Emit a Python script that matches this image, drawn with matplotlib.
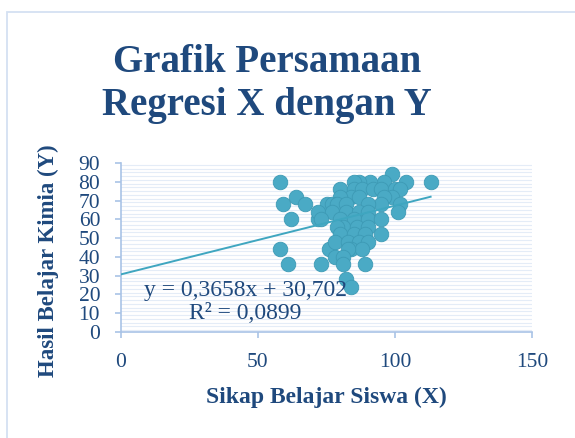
import matplotlib
matplotlib.use("Agg")
import matplotlib.pyplot as plt
import numpy as np
from matplotlib.patches import Rectangle

# ---- data ----
x_vals = [58, 59, 64, 67, 62, 58, 61, 72, 73, 76,
          99, 104, 113, 96, 91, 87, 85,
          80, 85, 88, 92, 95, 100, 102,
          84, 87, 80, 99, 96,
          75, 77, 79, 82, 95, 102, 90,
          72, 77, 82, 87, 90, 101,
          73, 80, 85, 90, 95,
          81, 79, 86, 90,
          80, 85, 89, 95,
          78, 83, 87, 90,
          84, 88, 83,
          78, 81,
          81, 89,
          82, 84]
y_vals = [80, 68, 72, 68, 60, 44, 36, 60, 36, 44,
          84, 80, 80, 80, 80, 80, 80,
          76, 76, 76, 76, 76, 76, 76,
          72, 72, 72, 72, 72,
          68, 68, 68, 68, 68, 68, 68,
          64, 64, 64, 64, 64, 64,
          60, 60, 60, 60, 60,
          56, 56, 56, 56,
          52, 52, 52, 52,
          48, 48, 48, 48,
          44, 44, 44,
          40, 40,
          36, 36,
          28, 24]
slope = 0.3658
intercept = 30.702
eq_text = "y = 0,3658x + 30,702\nR² = 0,0899"
title = "Grafik Persamaan\nRegresi X dengan Y"
xlabel = "Sikap Belajar Siswa (X)"
ylabel = "Hasil Belajar Kimia (Y)"
xticks = [0, 50, 100, 150]
yticks = [0, 10, 20, 30, 40, 50, 60, 70, 80, 90]

W, H = 575, 438
fig = plt.figure(figsize=(W / 100, H / 100), dpi=100)
plt.rcParams['font.family'] = ['Liberation Serif', 'DejaVu Serif']

dark = '#1f497d'
axc = '#a9c3e6'

# figure border (only top/left visible)
fig.patches.append(Rectangle((7 / W, -0.1), 1.2, (H - 12) / H + 0.1,
                             transform=fig.transFigure, fill=False,
                             edgecolor='#d4e1f2', lw=1.3))

ax = fig.add_axes([121 / W, (H - 332) / H, (532 - 121) / W, (332 - 163) / H])
ax.set_xlim(0, 150)
ax.set_ylim(0, 90)

# striped background
for yy in np.arange(1, 90, 2):
    ax.axhline(yy, color='#e4ecf7', lw=0.8, zorder=0)

ax.scatter(x_vals, y_vals, s=110, color='#4aaac5', edgecolor='#3d9ab5',
           linewidth=0.6, zorder=3)

xl = np.array([0, max(x_vals)])
ax.plot(xl, slope * xl + intercept, color='#3fa6c0', lw=1.4, zorder=4)

for s in ['top', 'right']:
    ax.spines[s].set_visible(False)
for s in ['left', 'bottom']:
    ax.spines[s].set_color(axc)
    ax.spines[s].set_linewidth(1.2)

ax.set_xticks(xticks)
ax.set_yticks(yticks)
ax.tick_params(axis='both', colors=axc, length=4, width=1.2, direction='out',
               labelcolor=dark, labelsize=15.5)
ax.tick_params(axis='y', pad=11)
ax.tick_params(axis='x', pad=11)

ax.text(0.303, 0.175, eq_text, transform=ax.transAxes, ha='center', va='center',
        fontsize=17, color=dark, linespacing=1.13, zorder=5)

fig.text(267 / W, 1 - 84 / H, title, ha='center', va='center', fontsize=28,
         fontweight='bold', color=dark, linespacing=1.24)
fig.text(326 / W, 1 - 397 / H, xlabel, ha='center', va='center', fontsize=17,
         fontweight='bold', color=dark)
fig.text(48 / W, 1 - 261 / H, ylabel, ha='center', va='center', fontsize=16.5,
         fontweight='bold', color=dark, rotation=90)

fig.savefig('out.png', dpi=100)
